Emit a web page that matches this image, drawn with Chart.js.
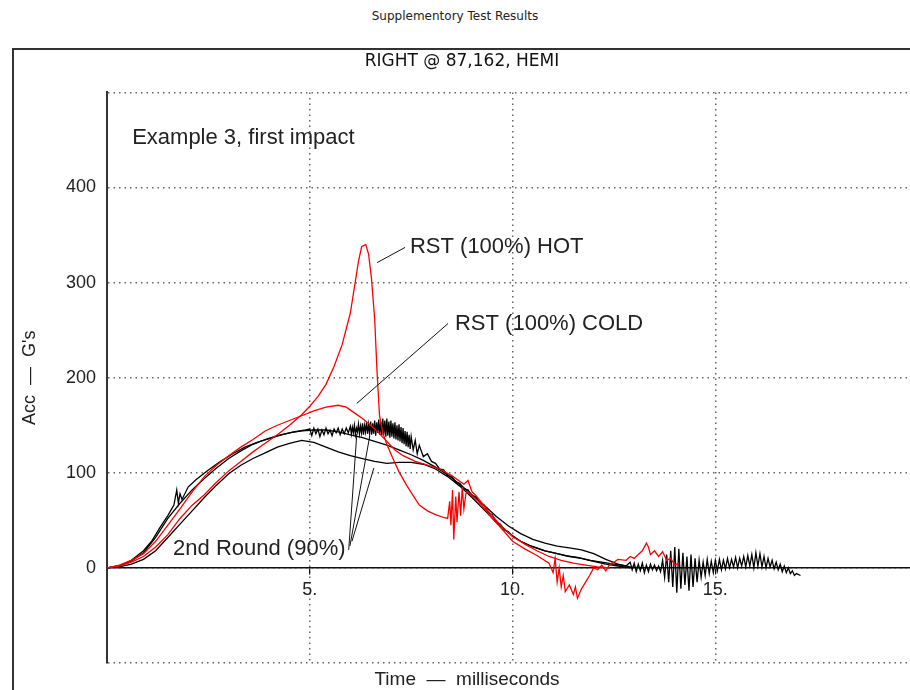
<!DOCTYPE html>
<html>
<head>
<meta charset="utf-8">
<title>Supplementory Test Results</title>
<script src="https://cdn.jsdelivr.net/npm/chart.js@4/dist/chart.umd.min.js"></script>
<style>
	html, body { margin: 0; padding: 0; background: #fff; }
	body { width: 910px; height: 690px; position: relative; overflow: hidden; }
	#supertitle {
		position: absolute; left: 0; top: 9px; width: 910px;
		text-align: center; font: 12px "DejaVu Sans", sans-serif; color: #222;
	}
	#frame {
		position: absolute; left: 12px; top: 48px; width: 898px; height: 642px;
		border-top: 2px solid #333; border-left: 2px solid #333;
	}
	#chart { position: absolute; left: 0; top: 0; }
</style>
</head>
<body>
<div id="supertitle">Supplementory Test Results</div>
<div id="frame"><canvas id="chart" width="896" height="640"></canvas></div>
<script>
// time in ms, acceleration in G's
const hotT = [0, 0.3, 0.6, 0.9, 1.2, 1.5, 1.8, 2.1, 2.4, 2.7, 3.0, 3.3, 3.6, 3.9, 4.2, 4.5, 4.8, 5.0, 5.2, 5.4, 5.6, 5.8, 6.0, 6.1, 6.2, 6.28, 6.38, 6.45, 6.52, 6.6, 6.66, 6.72, 6.8, 6.9, 7.05, 7.2, 7.4, 7.55, 7.7, 7.9, 8.1, 8.3, 8.4, 8.45, 8.48, 8.52, 8.55, 8.6, 8.63, 8.68, 8.72, 8.76, 8.8, 8.85, 8.9, 9.2, 9.5, 9.8, 10.0, 10.3, 10.6, 10.9, 11.0, 11.05, 11.1, 11.15, 11.2, 11.25, 11.3, 11.4, 11.5, 11.55, 11.6, 11.7, 11.8, 11.9, 12.0, 12.1, 12.2, 12.3, 12.4, 12.5, 12.6, 12.8, 12.9, 13.0, 13.1, 13.2, 13.3, 13.35, 13.4, 13.5, 13.6, 13.7, 13.8, 13.9, 14.0, 14.1];
const hotG = [0, 2, 6, 12, 22, 35, 52, 66, 77, 90, 102, 112, 122, 131, 140, 150, 161, 170, 180, 193, 212, 235, 268, 295, 322, 338, 340, 330, 305, 262, 205, 160, 142, 130, 115, 101, 86, 76, 66, 60, 56, 53, 52, 70, 45, 82, 30, 75, 48, 80, 55, 85, 62, 78, 80, 68, 52, 38, 28, 20, 13, 5, -5, 10, -15, 0, -20, -8, -25, -18, -28, -20, -32, -22, -15, -8, 0, -2, 3, -3, 4, 6, 9, 8, 12, 10, 14, 18, 26, 22, 14, 18, 12, 17, 8, 10, 3, 5];

const coldT = [0, 0.3, 0.6, 0.9, 1.2, 1.5, 1.8, 2.1, 2.4, 2.7, 3.0, 3.3, 3.6, 3.9, 4.2, 4.5, 4.8, 5.1, 5.4, 5.7, 5.9, 6.1, 6.3, 6.5, 6.7, 6.9, 7.1, 7.3, 7.6, 7.9, 8.2, 8.5, 8.8, 8.9, 9.0, 9.1, 9.4, 9.7, 10.0, 10.3, 10.6, 10.9, 11.2, 11.5, 11.8, 12.1, 12.4];
const coldG = [0, 3, 8, 15, 28, 45, 62, 80, 96, 108, 118, 127, 135, 144, 150, 155, 160, 165, 169, 171, 169, 163, 157, 150, 142, 133, 124, 118, 112, 108, 104, 97, 88, 92, 80, 76, 60, 45, 33, 25, 18, 12, 8, 5, 3, 1, 0];

const noisyT = [0, 0.3, 0.6, 0.9, 1.1, 1.3, 1.5, 1.65, 1.72, 1.76, 1.8, 1.85, 2.0, 2.2, 2.5, 2.8, 3.1, 3.4, 3.7, 4.0, 4.3, 4.6, 4.9,
	5.0, 5.05, 5.1, 5.15, 5.2, 5.25, 5.3, 5.35, 5.4, 5.45, 5.5, 5.55, 5.6, 5.65, 5.7, 5.75, 5.8, 5.85, 5.9, 5.95,
	6.0, 6.025, 6.05, 6.075, 6.1, 6.125, 6.15, 6.175, 6.2, 6.225, 6.25, 6.275, 6.3, 6.325, 6.35, 6.375, 6.4, 6.425, 6.45, 6.475,
	6.5, 6.525, 6.55, 6.575, 6.6, 6.625, 6.65, 6.675, 6.7, 6.725, 6.75, 6.775, 6.8, 6.825, 6.85, 6.875, 6.9, 6.925, 6.95, 6.975,
	7.0, 7.025, 7.05, 7.075, 7.1, 7.125, 7.15, 7.175, 7.2, 7.225, 7.25, 7.275, 7.3, 7.325, 7.35, 7.375, 7.4, 7.425, 7.45, 7.475, 7.5,
	7.55, 7.6, 7.65, 7.7, 7.8, 7.9, 8.0, 8.1, 8.2, 8.3, 8.4, 8.5, 8.6, 8.7, 8.8, 8.9,
	9.0, 9.1, 9.2, 9.3, 9.4, 9.5, 9.6, 9.7, 9.8, 9.9, 10.0, 10.2, 10.4, 10.6, 10.8, 11.0, 11.3, 11.6, 11.9, 12.2, 12.5, 12.8,
	12.9, 12.95, 13.0, 13.05, 13.1, 13.15, 13.2, 13.25, 13.3, 13.35, 13.4, 13.45, 13.5, 13.55, 13.6, 13.65, 13.7, 13.75, 13.8, 13.85, 13.9, 13.95,
	14.0, 14.05, 14.1, 14.15, 14.2, 14.25, 14.3, 14.35, 14.4, 14.45, 14.5, 14.55, 14.6, 14.65, 14.7, 14.75, 14.8, 14.85, 14.9, 14.95,
	15.0, 15.05, 15.1, 15.15, 15.2, 15.25, 15.3, 15.35, 15.4, 15.45, 15.5, 15.55, 15.6, 15.65, 15.7, 15.75, 15.8, 15.85, 15.9, 15.95,
	16.0, 16.05, 16.1, 16.15, 16.2, 16.25, 16.3, 16.35, 16.4, 16.45, 16.5, 16.55, 16.6, 16.65, 16.7, 16.75, 16.8, 16.85, 16.9, 16.95, 17.0, 17.1];
const noisyG = [0, 2, 8, 18, 28, 42, 55, 66, 82, 68, 78, 72, 85, 93, 103, 112, 120, 127, 132, 136, 140, 143, 145,
	146, 139, 147, 141, 146, 138, 145, 140, 147, 141, 145, 139, 146, 142, 147, 140, 146, 141, 147, 142,
	149, 141, 148, 142, 150, 140, 147, 143, 151, 141, 149, 142, 152, 140, 150, 143, 153, 141, 151, 142,
	154, 140, 152, 141, 155, 139, 153, 142, 156, 140, 154, 139, 157, 140, 155, 138, 157, 139, 154, 137,
	155, 138, 152, 136, 153, 135, 150, 134, 151, 133, 148, 131, 147, 130, 144, 128, 143, 127, 140, 125, 138,
	124, 134, 120, 129, 117, 120, 112, 110, 104, 103, 97, 96, 90, 89, 83, 82,
	76, 75, 68, 66, 58, 56, 48, 46, 40, 38, 33, 28, 24, 21, 18, 16, 13, 11, 8, 6, 4, 2,
	6, -2, 5, -4, 4, -3, 5, -5, 3, -4, 4, -2, 3, -3, 2, -4, 8, -10, 14, -15, 18, -20,
	22, -26, 20, -22, 16, -18, 12, -24, 14, -20, 10, -15, 8, -10, 6, -8, 9, -6, 7, -5,
	8, -3, 9, -2, 8, -1, 10, 0, 9, 1, 11, 0, 10, 2, 12, 1, 13, 2, 14, 0,
	16, 2, 15, 1, 12, 0, 10, 1, 8, -1, 6, -2, 4, -4, 2, -5, 0, -6, -3, -8, -6, -8];

const upperT = [0, 0.3, 0.6, 0.9, 1.2, 1.5, 1.8, 2.1, 2.4, 2.7, 3.0, 3.3, 3.6, 3.9, 4.2, 4.5, 4.8, 5.1, 5.4, 5.7, 6.0, 6.3, 6.6, 6.9, 7.2, 7.5, 7.8, 8.1, 8.4, 8.7, 9.0, 9.3, 9.6, 9.9, 10.2, 10.5, 10.8, 11.1, 11.4, 11.7, 12.0, 12.3, 12.6, 12.9, 13.2];
const upperG = [0, 2, 7, 16, 32, 52, 68, 82, 94, 105, 115, 123, 130, 135, 139, 142, 144, 145, 145, 143, 140, 137, 133, 129, 124, 119, 113, 106, 98, 88, 77, 66, 54, 44, 36, 30, 26, 23, 21, 19, 15, 9, 4, 1, 0];

const lowerT = [0, 0.3, 0.6, 0.9, 1.2, 1.5, 1.8, 2.1, 2.4, 2.7, 3.0, 3.3, 3.6, 3.9, 4.2, 4.5, 4.8, 5.1, 5.4, 5.7, 6.0, 6.3, 6.6, 6.9, 7.2, 7.5, 7.8, 8.1, 8.4, 8.7, 9.0, 9.3, 9.6, 9.9, 10.2, 10.5, 10.8, 11.1, 11.4, 11.7, 12.0, 12.3, 12.6, 12.9];
const lowerG = [0, 1, 4, 9, 18, 32, 46, 60, 74, 87, 99, 108, 115, 121, 127, 131, 134, 132, 127, 122, 118, 115, 112, 110, 111, 111, 109, 104, 96, 86, 74, 61, 48, 37, 28, 22, 18, 15, 12, 10, 7, 4, 2, 0];

// text on the plot, anchored in data units (left edge, middle of text)
const notes = [
	{ text: "Example 3, first impact", t: 0.62, g: 452 },
	{ text: "RST (100%) HOT", t: 7.47, g: 338 },
	{ text: "RST (100%) COLD", t: 8.58, g: 257 },
	{ text: "2nd Round (90%)", t: 1.63, g: 20 },
];
const leaders = [
	[6.66, 321, 7.35, 337],
	[6.16, 173, 8.41, 257],
	[5.96, 19, 6.16, 141],
	[5.99, 23, 6.48, 139],
	[6.04, 28, 6.58, 105],
];

function toPoints(ts, gs) {
	return ts.map((t, i) => ({ x: t, y: gs[i] }));
}

const dotted = {
	color: "#666",
	lineWidth: 1.5,
};

const notesPlugin = {
	id: "notes",
	afterDatasetsDraw(chart) {
		const ctx = chart.ctx;
		const sx = chart.scales.x;
		const sy = chart.scales.y;
		ctx.save();
		ctx.strokeStyle = "#111";
		ctx.lineWidth = 1;
		leaders.forEach((l) => {
			ctx.beginPath();
			ctx.moveTo(sx.getPixelForValue(l[0]), sy.getPixelForValue(l[1]));
			ctx.lineTo(sx.getPixelForValue(l[2]), sy.getPixelForValue(l[3]));
			ctx.stroke();
		});
		ctx.fillStyle = "#222";
		ctx.font = '22px "Liberation Sans", Arial, sans-serif';
		ctx.textBaseline = "middle";
		ctx.textAlign = "left";
		notes.forEach((n) => {
			ctx.fillText(n.text, sx.getPixelForValue(n.t), sy.getPixelForValue(n.g));
		});
		// x axis title sits under the page centre, not the plot centre
		ctx.font = '19px "Liberation Sans", Arial, sans-serif';
		ctx.textAlign = "center";
		ctx.fillText("Time  \u2014  milliseconds", chart.width / 2 + 5, chart.chartArea.bottom + 17);
		ctx.restore();
	},
};

const ctx = document.getElementById("chart").getContext("2d");
new Chart(ctx, {
	type: "scatter",
	data: {
		datasets: [
			{ label: "RST (100%) HOT", data: toPoints(hotT, hotG), borderColor: "#ff0000" },
			{ label: "RST (100%) COLD", data: toPoints(coldT, coldG), borderColor: "#ff0000" },
			{ label: "2nd Round (90%) a", data: toPoints(noisyT, noisyG), borderColor: "#000" },
			{ label: "2nd Round (90%) b", data: toPoints(upperT, upperG), borderColor: "#000" },
			{ label: "2nd Round (90%) c", data: toPoints(lowerT, lowerG), borderColor: "#000" },
		],
	},
	options: {
		responsive: false,
		animation: false,
		devicePixelRatio: 1,
		showLine: true,
		layout: { padding: 0 },
		elements: {
			point: { radius: 0 },
			line: { borderWidth: 1.3, tension: 0 },
		},
		plugins: {
			legend: { display: false },
			tooltip: { enabled: false },
			title: {
				display: true,
				text: "RIGHT @ 87,162, HEMI",
				color: "#111",
				font: { family: "DejaVu Sans", size: 17, weight: "normal" },
				padding: { top: 1, bottom: 21 },
			},
		},
		scales: {
			x: {
				type: "linear",
				position: "bottom",
				min: 0,
				max: 19.8,
				ticks: { display: false, stepSize: 5 },
				grid: { color: dotted.color, lineWidth: dotted.lineWidth, drawTicks: false },
				border: { display: false, dash: [1.5, 4] },
				afterBuildTicks: (s) => {
					s.ticks = s.ticks.filter((t) => t.value % 5 === 0);
				},
				afterFit: (s) => {
					s.height = 27;
				},
			},
			x2: {
				type: "linear",
				position: { y: 0 },
				min: 0,
				max: 19.8,
				ticks: {
					stepSize: 5,
					padding: 5,
					color: "#222",
					font: { family: "Liberation Sans", size: 18 },
					callback: (v) => (v === 0 ? "" : v + "."),
				},
				grid: { drawOnChartArea: false, drawTicks: true, tickLength: 6, color: "#111", lineWidth: 1.2 },
				border: { display: true, color: "#111", width: 1.5 },
				afterBuildTicks: (s) => {
					s.ticks = s.ticks.filter((t) => t.value % 5 === 0);
				},
			},
			y: {
				type: "linear",
				min: -100,
				max: 500,
				ticks: {
					stepSize: 100,
					padding: 11,
					color: "#222",
					font: { family: "Liberation Sans", size: 18 },
					callback: (v) => (v < 0 || v > 400 ? "" : v),
				},
				grid: { color: dotted.color, lineWidth: dotted.lineWidth, drawTicks: false },
				border: { display: true, color: "#333", width: 2, dash: [1.5, 4] },
				title: {
					display: true,
					text: "Acc  \u2014  G's",
					color: "#222",
					font: { family: "Liberation Sans", size: 18 },
					padding: { top: 5, bottom: 0 },
				},
				afterFit: (s) => {
					s.width = 93;
				},
			},
		},
	},
	plugins: [notesPlugin],
});
</script>
</body>
</html>
